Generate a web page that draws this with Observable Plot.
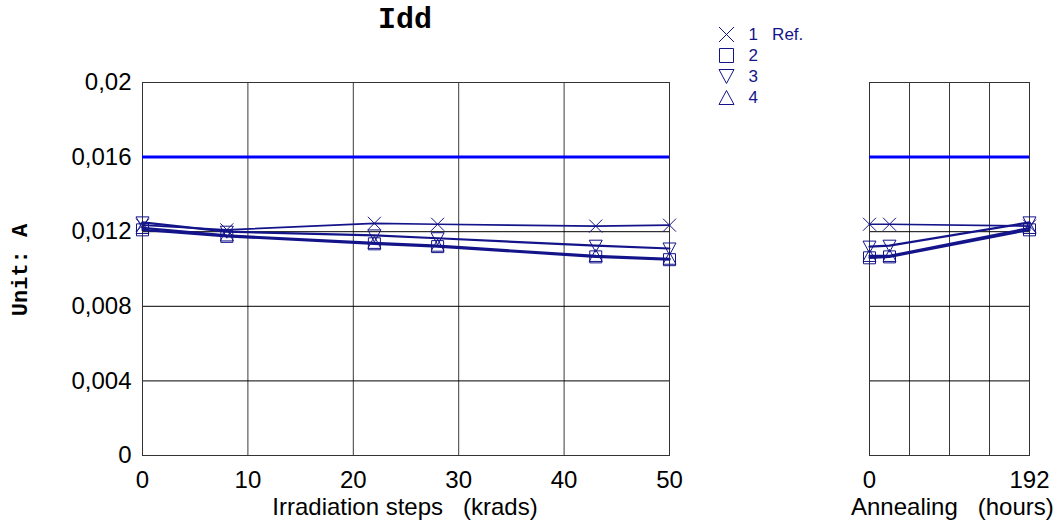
<!DOCTYPE html>
<html>
<head>
<meta charset="utf-8">
<script src="https://cdn.jsdelivr.net/npm/d3@7"></script>
<script src="https://cdn.jsdelivr.net/npm/@observablehq/plot@0.6"></script>
<style>
  html, body { margin: 0; padding: 0; background: #fff; }
  #wrap { position: relative; width: 1062px; height: 524px; overflow: hidden; font-family: "Liberation Sans", Arial, sans-serif; }
  #wrap > svg, #wrap > div { position: absolute; }
  .lbl { white-space: pre; color: #000; }
</style>
</head>
<body>
<div id="wrap"></div>
<script>
// ---------- data ----------
const seriesNames = ["1", "2", "3", "4"];
const legendLabels = ["1\u00a0\u00a0\u00a0Ref.", "2", "3", "4"];

const irrSteps = [0, 8, 22, 28, 43, 50];                 // krads
const irrS1 = [0.01235, 0.0121, 0.01245, 0.0124, 0.0123, 0.01235];
const irrS2 = [0.0121, 0.01175, 0.01135, 0.0112, 0.01065, 0.0105];
const irrS3 = [0.0125, 0.0120, 0.0118, 0.01165, 0.01125, 0.0111];
const irrS4 = [0.0122, 0.0118, 0.0114, 0.01125, 0.0107, 0.01055];

const annSteps = [0, 24, 192];                            // hours
const annS1 = [0.0124, 0.0124, 0.0123];
const annS2 = [0.0106, 0.01065, 0.0121];
const annS3 = [0.0112, 0.01125, 0.0125];
const annS4 = [0.0107, 0.0107, 0.0122];

const specLimit = [0.016];

const yTicks = [0, 0.004, 0.008, 0.012, 0.016, 0.02];
const yTickLabels = ["0", "0,004", "0,008", "0,012", "0,016", "0,02"];
const irrTicks = [0, 10, 20, 30, 40, 50];
const annGrid = [0, 48, 96, 144, 192];
const annTicks = [0, 192];

// ---------- styling ----------
const navy = "#14148a";
const symTimes = { draw(c) { const r = 6.5; c.moveTo(-r, -r); c.lineTo(r, r); c.moveTo(r, -r); c.lineTo(-r, r); } };
const symSquare = { draw(c) { const r = 6; c.moveTo(-r, -r); c.lineTo(r, -r); c.lineTo(r, r); c.lineTo(-r, r); c.closePath(); } };
const symTriDown = { draw(c) { const r = 6.5, h = 5.5; c.moveTo(-r, -h); c.lineTo(r, -h); c.lineTo(0, h + 1); c.closePath(); } };
const symTriUp = { draw(c) { const r = 6.5, h = 5.5; c.moveTo(-r, h); c.lineTo(r, h); c.lineTo(0, -h - 1); c.closePath(); } };
const symbols = [symTimes, symSquare, symTriDown, symTriUp];

const yLabelMap = new Map(yTicks.map((v, i) => [v, yTickLabels[i]]));

function panel({ steps, series, xDomain, xGrid, xTicks, width, ml, mr, showY }) {
  const marks = [
    Plot.gridX(xGrid, { stroke: "#3a3a3a", strokeOpacity: 1 }),
    Plot.gridY(yTicks, { stroke: "#000", strokeOpacity: 1 }),
    Plot.frame({ stroke: "#333" }),
    Plot.ruleY(specLimit, { stroke: "#0000ff", strokeWidth: 3 })
  ];
  series.forEach((vals, k) => {
    const rows = steps.map((s, i) => ({ x: s, y: vals[i] }));
    marks.push(Plot.line(rows, { x: "x", y: "y", stroke: navy, strokeWidth: k === 0 ? 1.7 : 2.2 }));
  });
  series.forEach((vals, k) => {
    const rows = steps.map((s, i) => ({ x: s, y: vals[i] }));
    marks.push(Plot.dot(rows, { x: "x", y: "y", symbol: symbols[k], stroke: navy, strokeWidth: 1, fill: "none" }));
  });
  marks.push(Plot.axisX(xTicks, { tickSize: 0, tickPadding: 15, fontSize: 24, label: null }));
  if (showY) {
    marks.push(Plot.axisY(yTicks, { tickSize: 0, tickPadding: 11, fontSize: 24, tickFormat: d => yLabelMap.get(d), label: null }));
  } else {
    marks.push(Plot.axisY([], { label: null }));
  }
  return Plot.plot({
    width, height: 524,
    marginLeft: ml, marginRight: mr, marginTop: 82, marginBottom: 69,
    x: { domain: xDomain },
    y: { domain: [0, 0.02] },
    style: { fontFamily: "Liberation Sans, Arial, sans-serif", fontSize: "24px", color: "#000", background: "transparent", overflow: "visible" },
    marks
  });
}

const wrap = document.getElementById("wrap");

const left = panel({
  steps: irrSteps, series: [irrS1, irrS2, irrS3, irrS4],
  xDomain: [0, 50], xGrid: irrTicks, xTicks: irrTicks,
  width: 700, ml: 142, mr: 31, showY: true
});
left.style.left = "0px"; left.style.top = "0px";
wrap.appendChild(left);

const right = panel({
  steps: annSteps, series: [annS1, annS2, annS3, annS4],
  xDomain: [0, 192], xGrid: annGrid, xTicks: annTicks,
  width: 222, ml: 29, mr: 33, showY: false
});
right.style.left = "840px"; right.style.top = "0px";
wrap.appendChild(right);

// legend
const symbolsLegend = [
  { draw(c) { const r = 7.5; c.moveTo(-r, -r); c.lineTo(r, r); c.moveTo(r, -r); c.lineTo(-r, r); } },
  { draw(c) { const r = 7; c.moveTo(-r, -r); c.lineTo(r, -r); c.lineTo(r, r); c.lineTo(-r, r); c.closePath(); } },
  { draw(c) { const r = 7.5, h = 7; c.moveTo(-r, -h); c.lineTo(r, -h); c.lineTo(0, h); c.closePath(); } },
  { draw(c) { const r = 7.5, h = 7; c.moveTo(-r, h); c.lineTo(r, h); c.lineTo(0, -h); c.closePath(); } }
];
const legMarks = [];
seriesNames.forEach((n, k) => {
  legMarks.push(Plot.dot([n], { y: d => d, frameAnchor: "left", dx: 8, symbol: symbolsLegend[k], stroke: navy, strokeWidth: 1, fill: "none" }));
});
legMarks.push(Plot.text(seriesNames, { y: d => d, text: (d, i) => legendLabels[i], frameAnchor: "left", dx: 30, textAnchor: "start", fontSize: 17, fill: navy }));
const legend = Plot.plot({
  width: 130, height: 90, margin: 0,
  y: { type: "point", domain: seriesNames, range: [13, 78], padding: 0, axis: null },
  style: { fontFamily: "Liberation Sans, Arial, sans-serif", background: "transparent", overflow: "visible" },
  marks: legMarks
});
legend.style.left = "718px"; legend.style.top = "20px";
wrap.appendChild(legend);

// text labels
function addText(txt, css) {
  const d = document.createElement("div");
  d.className = "lbl";
  d.textContent = txt;
  Object.assign(d.style, css);
  wrap.appendChild(d);
  return d;
}
addText("Idd", { left: "305px", width: "200px", top: "2px", textAlign: "center", fontFamily: "'Liberation Mono', 'Courier New', monospace", fontWeight: "bold", fontSize: "30px", lineHeight: "36px" });
addText("Irradiation steps   (krads)", { left: "155px", width: "500px", top: "493px", textAlign: "center", fontSize: "24px", lineHeight: "28px" });
addText("Annealing   (hours)", { left: "851px", width: "200px", top: "493px", textAlign: "center", fontSize: "24px", lineHeight: "28px" });
addText("Unit: A", { left: "22px", top: "270px", fontFamily: "'Liberation Mono', 'Courier New', monospace", fontWeight: "bold", fontSize: "22px", lineHeight: "24px", transform: "translate(-50%, -50%) rotate(-90deg)", transformOrigin: "center" });
</script>
</body>
</html>
